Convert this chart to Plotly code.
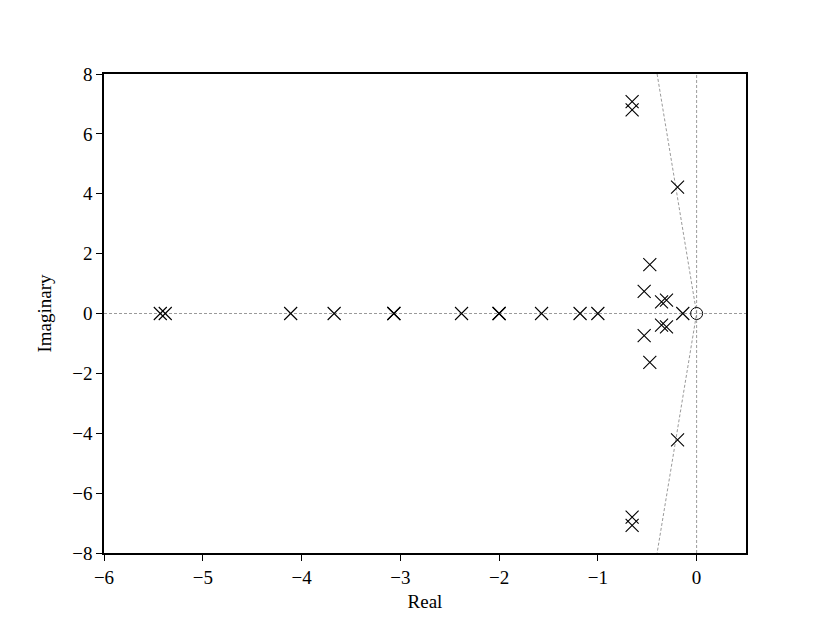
import plotly.graph_objects as go

# poles (x markers)
pole_re = [-5.43, -5.38, -4.11, -3.67, -3.065, -3.065, -2.38, -2.00, -2.00, -1.57, -1.18, -1.00,
           -0.14, -0.653, -0.653, -0.653, -0.653, -0.193, -0.193, -0.474, -0.474, -0.531, -0.531,
           -0.355, -0.355, -0.305, -0.305]
pole_im = [0, 0, 0, 0, 0, 0, 0, 0, 0, 0, 0, 0,
           0, 7.08, 6.80, -6.80, -7.08, 4.22, -4.22, 1.63, -1.63, 0.74, -0.74,
           0.39, -0.39, 0.45, -0.45]

# zeros (o markers)
zero_re = [0.0]
zero_im = [0.0]

# damping guide line: passes through origin and (-0.40, +/-8)
guide_re = [-0.40, 0.0, -0.40]
guide_im = [8.0, 0.0, -8.0]

grey = "#808080"
font = "Liberation Serif"
dash = "3px,2px"

fig = go.Figure()

# reference dashed lines
fig.add_trace(go.Scatter(x=[-6, 0.5], y=[0, 0], mode="lines",
                         line=dict(color=grey, width=0.8, dash=dash), showlegend=False))
fig.add_trace(go.Scatter(x=[0, 0], y=[-8, 8], mode="lines",
                         line=dict(color=grey, width=0.8, dash=dash), showlegend=False))
fig.add_trace(go.Scatter(x=guide_re, y=guide_im, mode="lines",
                         line=dict(color=grey, width=0.8, dash=dash), showlegend=False))

fig.add_trace(go.Scatter(x=pole_re, y=pole_im, mode="markers",
                         marker=dict(symbol="x-thin-open", size=13, color="black",
                                     line=dict(color="black", width=1.1)),
                         showlegend=False))
fig.add_trace(go.Scatter(x=zero_re, y=zero_im, mode="markers",
                         marker=dict(symbol="circle-open", size=12, color="black",
                                     line=dict(color="black", width=1)),
                         showlegend=False))

axis_common = dict(showline=True, linecolor="black", linewidth=1.5, mirror=True,
                   ticks="outside", ticklen=6, tickwidth=1, tickcolor="black",
                   showgrid=False, zeroline=False,
                   tickfont=dict(family=font, size=19, color="black"))

fig.update_xaxes(range=[-6, 0.5], tickvals=[-6, -5, -4, -3, -2, -1, 0],
                 title=dict(text="Real", font=dict(family=font, size=19, color="black"), standoff=8),
                 **axis_common)
fig.update_yaxes(range=[-8, 8], tickvals=[-8, -6, -4, -2, 0, 2, 4, 6, 8],
                 title=dict(text="Imaginary", font=dict(family=font, size=19, color="black"), standoff=16),
                 **axis_common)

# page body adds an 8px offset, so margins are shifted accordingly
fig.update_layout(width=822, height=615, margin=dict(l=96, r=84, t=66, b=70),
                  plot_bgcolor="white", paper_bgcolor="white")

fig.write_html("out.html")
